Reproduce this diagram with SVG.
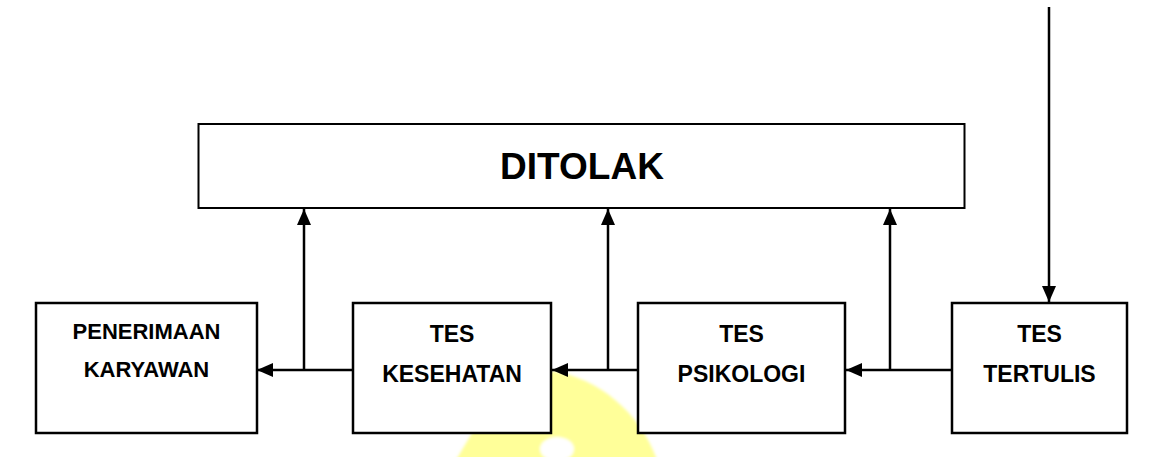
<svg xmlns="http://www.w3.org/2000/svg" width="1157" height="457" viewBox="0 0 1157 457">
  <style>
    .box { fill: #ffffff; stroke: #000000; stroke-width: 2.5; }
    .big { fill: none; stroke: #000000; stroke-width: 2; }
    .lbl { font-family: "Liberation Sans", Arial, sans-serif; font-weight: bold; fill: #000000; text-anchor: middle; }
    .wire { fill: none; stroke: #000000; stroke-width: 2.5; }
  </style>
  <defs>
    <marker id="arrow" viewBox="0 0 16 14" refX="16" refY="7" markerWidth="16" markerHeight="14" markerUnits="userSpaceOnUse" orient="auto">
      <path d="M0,0 L16,7 L0,14 Z" fill="#000000"/>
    </marker>
    <filter id="soft" x="-10%" y="-10%" width="120%" height="120%">
      <feGaussianBlur stdDeviation="1.5"/>
    </filter>
  </defs>

  <rect width="1157" height="457" fill="#ffffff"/>

  <!-- pale yellow emblem behind the boxes -->
  <g id="emblem" filter="url(#soft)">
    <path d="M552,371 C598,378 640,412 657,460 L456,460 L472,433 Z" fill="#ffff99"/>
    <ellipse cx="557" cy="449" rx="17" ry="12" fill="#ffffff"/>
  </g>

  <g id="ditolak">
    <rect class="big" x="198.5" y="124" width="766" height="84"/>
    <text class="lbl" x="582" y="179" font-size="37">DITOLAK</text>
  </g>

  <g id="penerimaan">
    <rect class="box" x="36" y="303" width="221" height="130"/>
    <text class="lbl" x="146.5" y="339" font-size="22">PENERIMAAN</text>
    <text class="lbl" x="146.5" y="377" font-size="22">KARYAWAN</text>
  </g>

  <g id="kesehatan">
    <rect class="box" x="353" y="303" width="198" height="130"/>
    <text class="lbl" x="452" y="342" font-size="23">TES</text>
    <text class="lbl" x="452" y="382" font-size="23">KESEHATAN</text>
  </g>

  <g id="psikologi">
    <rect class="box" x="638" y="303" width="207" height="130"/>
    <text class="lbl" x="741.5" y="342" font-size="23">TES</text>
    <text class="lbl" x="741.5" y="382" font-size="23">PSIKOLOGI</text>
  </g>

  <g id="tertulis">
    <rect class="box" x="952" y="303" width="175" height="130"/>
    <text class="lbl" x="1039.5" y="342" font-size="23">TES</text>
    <text class="lbl" x="1039.5" y="382" font-size="23">TERTULIS</text>
  </g>

  <g id="connectors">
    <!-- entry into the written test -->
    <line class="wire" x1="1049" y1="7" x2="1049" y2="302" marker-end="url(#arrow)"/>
    <!-- passes flow leftwards -->
    <line class="wire" x1="952" y1="370" x2="846" y2="370" marker-end="url(#arrow)"/>
    <line class="wire" x1="638" y1="370" x2="552" y2="370" marker-end="url(#arrow)"/>
    <line class="wire" x1="353" y1="370" x2="257" y2="370" marker-end="url(#arrow)"/>
    <!-- failures go up to the rejected box -->
    <line class="wire" x1="890" y1="370" x2="890" y2="209" marker-end="url(#arrow)"/>
    <line class="wire" x1="608" y1="370" x2="608" y2="209" marker-end="url(#arrow)"/>
    <line class="wire" x1="304" y1="370" x2="304" y2="209" marker-end="url(#arrow)"/>
  </g>
</svg>
